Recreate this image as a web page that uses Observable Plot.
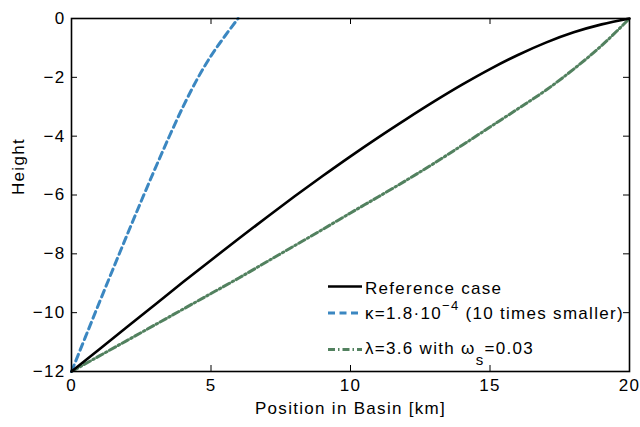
<!DOCTYPE html>
<html><head><meta charset="utf-8">
<script src="https://cdn.jsdelivr.net/npm/d3@7"></script>
<script src="https://cdn.jsdelivr.net/npm/@observablehq/plot@0.6"></script>
<style>body{margin:0;background:#fff} svg{display:block}</style>
</head><body><div id="chart"></div>
<script>
// ---- data ----
const positionKm = [0,1,2,3,4,5,6,7,8,9,10,11,12,13,14,15,16,17,18,19,20];
const referenceCase = [-12,-11.24,-10.48,-9.72,-8.96,-8.215,-7.48,-6.755,-6.045,-5.355,-4.685,-4.04,-3.42,-2.82,-2.25,-1.72,-1.24,-0.82,-0.47,-0.2,0];
const lambdaCase = [-12,-11.47,-10.94,-10.41,-9.88,-9.35,-8.82,-8.27,-7.72,-7.17,-6.61,-6.06,-5.5,-4.92,-4.31,-3.69,-3.07,-2.44,-1.72,-0.92,0];
const kappaPositionKm = [0,0.5,1,1.5,2,2.5,3,3.5,4,4.5,5,5.5,5.97];
const kappaCase = [-12,-10.825,-9.65,-8.49,-7.34,-6.205,-5.095,-4.02,-2.995,-2.07,-1.27,-0.595,0];
const xTicks = [0,5,10,15,20];
const yTicks = [0,-2,-4,-6,-8,-10,-12];
const xLabel = "Position in Basin [km]";
const yLabel = "Height";
const legendNames = ["Reference case", "κ=1.8·10", "−4", "(10 times smaller)", "λ=3.6 with ω", "s", "=0.03"];

// ---- styles ----
const styles = {
  ref:    {stroke: "#000000", strokeWidth: 2.6, dash: null},
  kappa:  {stroke: "#3b87c1", strokeWidth: 3, dash: "7,4.5"},
  lambda: {stroke: "#52815f", strokeWidth: 3, dash: "7,3,1.5,3"}
};

const refData = positionKm.map((x, i) => ({x, y: referenceCase[i]}));
const lamData = positionKm.map((x, i) => ({x, y: lambdaCase[i]}));
const kapData = kappaPositionKm.map((x, i) => ({x, y: kappaCase[i]}));

const W = 640, H = 427, mL = 71, mR = 11, mT = 18, mB = 56;
const plotW = W - mL - mR, plotH = H - mT - mB, tk = 6;
const FONT = "'Liberation Sans', Arial, Helvetica, sans-serif";

const chart = Plot.plot({
  width: W, height: H,
  marginLeft: mL, marginRight: mR, marginTop: mT, marginBottom: mB,
  x: {domain: [0, 20]},
  y: {domain: [-12, 0]},
  style: {fontFamily: FONT, fontSize: "17px", background: "white", color: "black", letterSpacing: "1.3px"},
  marks: [
    Plot.line(lamData, {x: "x", y: "y", stroke: styles.lambda.stroke, strokeWidth: styles.lambda.strokeWidth, strokeDasharray: styles.lambda.dash, curve: "monotone-x"}),
    Plot.line(kapData, {x: "x", y: "y", stroke: styles.kappa.stroke, strokeWidth: styles.kappa.strokeWidth, strokeDasharray: styles.kappa.dash, curve: "monotone-x"}),
    Plot.line(refData, {x: "x", y: "y", stroke: styles.ref.stroke, strokeWidth: styles.ref.strokeWidth, curve: "monotone-x"}),
    Plot.frame({stroke: "black", strokeWidth: 1.6}),
    Plot.tickX(xTicks, {x: d => d, insetTop: plotH - tk, stroke: "black", strokeWidth: 1}),
    Plot.tickX(xTicks, {x: d => d, insetBottom: plotH - tk, stroke: "black", strokeWidth: 1}),
    Plot.tickY(yTicks, {y: d => d, insetRight: plotW - tk, stroke: "black", strokeWidth: 1}),
    Plot.tickY(yTicks, {y: d => d, insetLeft: plotW - tk, stroke: "black", strokeWidth: 1}),
    Plot.axisX(xTicks, {tickSize: 0, tickPadding: 7, label: null, fontSize: 17}),
    Plot.axisY(yTicks, {tickSize: 0, tickPadding: 6, label: null, fontSize: 17}),
    Plot.text([yLabel], {text: d => d, frameAnchor: "left", dx: -53, rotate: -90, fontSize: 17}),
    Plot.text([xLabel], {text: d => d, frameAnchor: "bottom", dy: 42, fontSize: 17})
  ]
});
document.getElementById("chart").append(chart);

// ---- legend (inside plot, lower right) ----
const svg = d3.select(chart);
const lg = svg.append("g").attr("font-family", FONT).attr("font-size", 17).attr("fill", "black")
  .attr("text-anchor", "start").style("letter-spacing", "1.3px");
const rows = [
  {key: "ref", lineY: 286.5, baseY: 294},
  {key: "kappa", lineY: 313, baseY: 318.7},
  {key: "lambda", lineY: 349.5, baseY: 353.5}
];
rows.forEach((r, i) => {
  const s = styles[r.key];
  lg.append("line").attr("x1", 328).attr("x2", 362).attr("y1", r.lineY).attr("y2", r.lineY)
    .attr("stroke", s.stroke).attr("stroke-width", s.strokeWidth).attr("stroke-dasharray", s.dash);
  const t = lg.append("text").attr("x", 365).attr("y", r.baseY).attr("text-anchor", "start");
  if (i === 0) {
    t.text(legendNames[0]);
  } else if (i === 1) {
    t.append("tspan").text(legendNames[1]);
    t.append("tspan").attr("dy", -8.7).attr("font-size", 13).text(legendNames[2]);
    t.append("tspan").attr("dy", 8.7).attr("dx", 6).text(legendNames[3]);
  } else {
    t.append("tspan").text(legendNames[4]);
    t.append("tspan").attr("dy", 11).attr("font-size", 15).text(legendNames[5]);
    t.append("tspan").attr("dy", -11).text(legendNames[6]);
  }
});
</script>
</body></html>
